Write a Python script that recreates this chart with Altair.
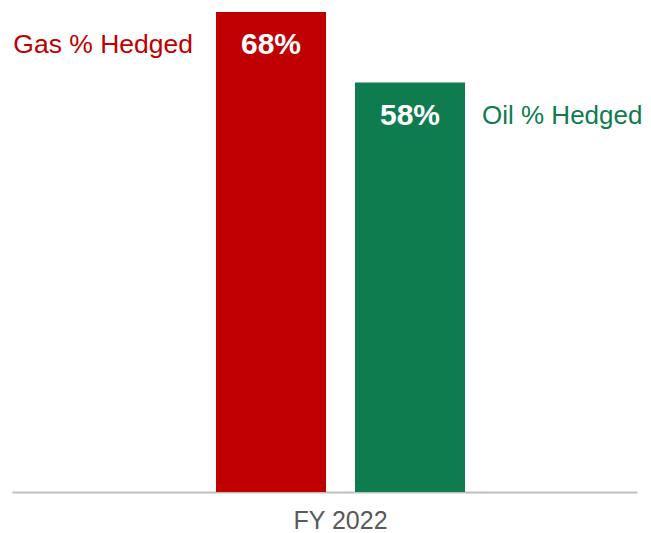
import altair as alt
import pandas as pd

period = ["FY 2022", "FY 2022"]
series = ["Gas % Hedged", "Oil % Hedged"]
values = [68, 58]
labels = ["68%", "58%"]
colors = ["#C00000", "#0E7C4F"]

df = pd.DataFrame({"period": period, "series": series, "value": values, "label": labels})

x = alt.X("period:N", title=None,
          scale=alt.Scale(paddingInner=0, paddingOuter=0.755, align=0.5426),
          axis=alt.Axis(labelAngle=0, labelFontSize=25, labelColor="#595959",
                        labelFont="Liberation Sans", ticks=False, labelPadding=16,
                        domainColor="#BFBFBF", domainWidth=2))
xo = alt.XOffset("series:N", scale=alt.Scale(paddingInner=0.2086, paddingOuter=0), sort=series)
y = alt.Y("value:Q", scale=alt.Scale(domain=[0, 68]), axis=None)
color = alt.Color("series:N", scale=alt.Scale(domain=series, range=colors), legend=None)

base = alt.Chart(df)
bars = base.mark_bar().encode(x=x, xOffset=xo, y=y, color=color)
vals = base.mark_text(color="white", fontSize=30, fontWeight="bold", font="Liberation Sans",
                      baseline="middle", dy=33).encode(x=x, xOffset=xo, y=y, text="label:N")
gas = base.transform_filter(alt.datum.series == series[0]).mark_text(
    fontSize=26.5, font="Liberation Sans", align="right", baseline="middle", dx=-78, dy=33
).encode(x=x, xOffset=xo, y=y, text="series:N", color=color)
oil = base.transform_filter(alt.datum.series == series[1]).mark_text(
    fontSize=26, font="Liberation Sans", align="left", baseline="middle", dx=72, dy=33
).encode(x=x, xOffset=xo, y=y, text="series:N", color=color)

chart = alt.layer(bars, vals, gas, oil).properties(
    width=625, height=480,
    autosize=alt.AutoSizeParams(type="none"),
    padding={"left": 4, "top": 4, "right": 6, "bottom": 40},
).configure_view(stroke=None).configure_axis(grid=False)

chart.save("out.html", embed_options={"renderer": "svg", "actions": False})
